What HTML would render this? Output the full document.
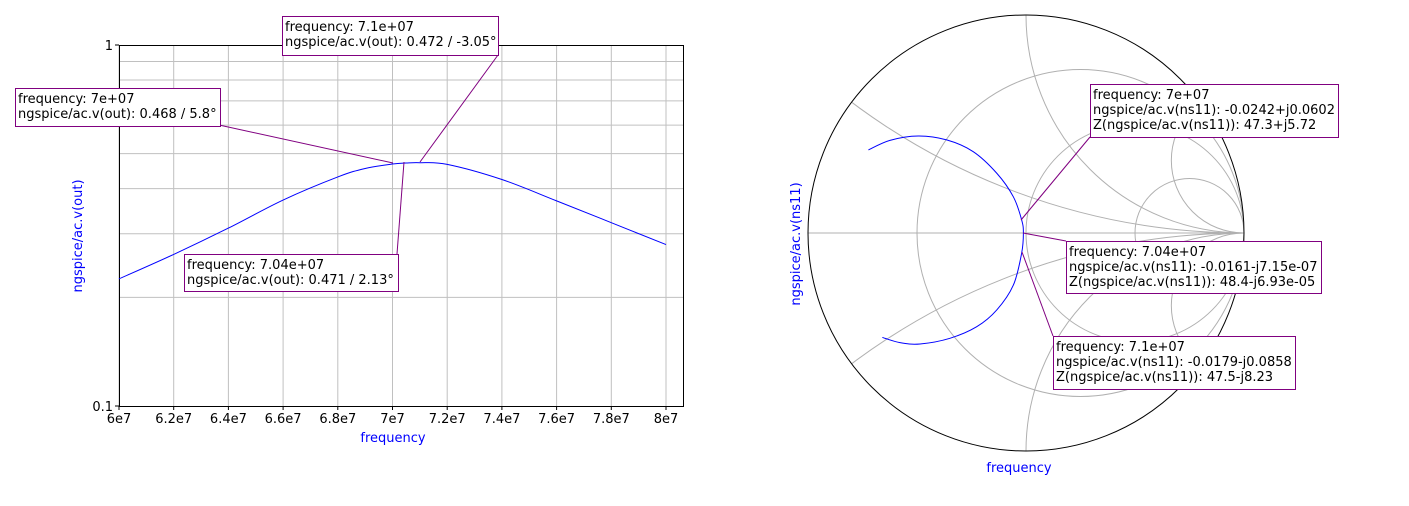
<!DOCTYPE html>
<html><head><meta charset="utf-8"><style>
html,body{margin:0;padding:0;background:#fff;width:1409px;height:506px;overflow:hidden;}
svg{display:block;font-family:"DejaVu Sans","Liberation Sans",sans-serif;}
</style></head><body>
<svg id="root" width="1409" height="506" viewBox="0 0 1409 506">
<g id="left"></g>
<g id="right"></g>
</svg>
<script>
// Left plot data
const freqs = [6.0e7, 6.2e7, 6.4e7, 6.6e7, 6.8e7, 6.9e7, 7.0e7, 7.05e7, 7.1e7, 7.2e7, 7.4e7, 7.6e7, 7.8e7, 8.0e7];
const mags  = [0.225, 0.263, 0.311, 0.372, 0.431, 0.455, 0.468, 0.471, 0.472, 0.467, 0.424, 0.370, 0.322, 0.280];
const xTicks = [6e7, 6.2e7, 6.4e7, 6.6e7, 6.8e7, 7e7, 7.2e7, 7.4e7, 7.6e7, 7.8e7, 8e7];
const xTickLabels = ["6e7","6.2e7","6.4e7","6.6e7","6.8e7","7e7","7.2e7","7.4e7","7.6e7","7.8e7","8e7"];
const yGrid = [0.2,0.3,0.4,0.5,0.6,0.7,0.8,0.9];
const yTicks = [0.1, 1];
const yTickLabels = ["0.1","1"];
// Smith data: reflection coefficient (re, im)
const gRe = [-0.723,-0.624,-0.494,-0.364,-0.242,-0.134,-0.058,-0.020,-0.012,-0.020,-0.058,-0.134,-0.226,-0.349,-0.486,-0.578,-0.659];
const gIm = [0.381,0.425,0.445,0.427,0.373,0.274,0.166,0.060,0.000,-0.093,-0.239,-0.353,-0.430,-0.483,-0.509,-0.503,-0.479];
const smithR = [1/3, 1, 3];
const smithX = [1/3, 1, 3];

const NS="http://www.w3.org/2000/svg";
function mk(parent,tag,attrs){const e=document.createElementNS(NS,tag);for(const k in attrs)e.setAttribute(k,attrs[k]);parent.appendChild(e);return e;}
function smooth(pts){let d='M'+pts[0][0]+','+pts[0][1];
  for(let i=0;i<pts.length-1;i++){const p0=pts[Math.max(0,i-1)],p1=pts[i],p2=pts[i+1],p3=pts[Math.min(pts.length-1,i+2)];
    const c1=[p1[0]+(p2[0]-p0[0])/6,p1[1]+(p2[1]-p0[1])/6],c2=[p2[0]-(p3[0]-p1[0])/6,p2[1]-(p3[1]-p1[1])/6];
    d+=' C'+c1[0]+','+c1[1]+' '+c2[0]+','+c2[1]+' '+p2[0]+','+p2[1];}
  return d;}
const L=document.getElementById('left'), R=document.getElementById('right');
const x0=119,x1=683,yTop=45,yBot=406;
const fx=f=>119+(f-6e7)/1e7*273.5;
const fy=v=>yTop+(-Math.log10(v))*(yBot-yTop);
yGrid.forEach(v=>{const l=mk(L,'line',{x1:x0,x2:x1,y1:fy(v),y2:fy(v),stroke:'#c0c0c0','stroke-width':1});

});
xTicks.forEach((t,i)=>{const l=mk(L,'line',{x1:fx(t),x2:fx(t),y1:yTop,y2:yBot,stroke:'#c0c0c0','stroke-width':1});


mk(L,'line',{x1:fx(t),x2:fx(t),y1:yBot,y2:yBot+4,stroke:'#000'});
const tx=mk(L,'text',{x:fx(t),y:yBot+17,'text-anchor':'middle','font-size':13,fill:'#000'});tx.textContent=xTickLabels[i];

});
yTicks.forEach((t,i)=>{mk(L,'line',{x1:x0-4,x2:x0,y1:fy(t),y2:fy(t),stroke:'#000'});
const tx=mk(L,'text',{x:x0-6,y:fy(t)+5,'text-anchor':'end','font-size':13,fill:'#000'});tx.textContent=yTickLabels[i];

});
const fr=mk(L,'rect',{x:x0+0.5,y:yTop+0.5,width:x1-x0,height:yBot-yTop,fill:'none',stroke:'#000','stroke-width':1});


const pl=mk(L,'path',{d:smooth(freqs.map((f,i)=>[fx(f),fy(mags[i])])),fill:'none',stroke:'#0000ff','stroke-width':1});


let t=mk(L,'text',{x:393,y:442,'text-anchor':'middle','font-size':13,fill:'#0000ff'});t.textContent='frequency';


t=mk(L,'text',{x:0,y:0,'text-anchor':'middle','font-size':13,fill:'#0000ff',transform:'translate(82,236) rotate(-90)'});t.textContent='ngspice/ac.v(out)';



function annot(parent,bx,by,bw,bh,lines,lx1,ly1,lx2,ly2,name){
  const ln=mk(parent,'line',{x1:lx1,y1:ly1,x2:lx2,y2:ly2,stroke:'#800080','stroke-width':1});
  
  
  const g=mk(parent,'g',{});
  
  
  mk(g,'rect',{x:bx+0.5,y:by+0.5,width:bw,height:bh,fill:'#fff',stroke:'#800080','stroke-width':1});
  lines.forEach((s,i)=>{const tx=mk(g,'text',{x:bx+3,y:by+15+i*15,'font-size':13,fill:'#000'});tx.textContent=s;});
}
annot(L,282,16,216,39,['frequency: 7.1e+07','ngspice/ac.v(out): 0.472 / -3.05°'],498,55,420,162,'marker-annotation-71');
annot(L,15,88,205,38,['frequency: 7e+07','ngspice/ac.v(out): 0.468 / 5.8°'],219,125,393,163,'marker-annotation-70');
annot(L,184,254,214,37,['frequency: 7.04e+07','ngspice/ac.v(out): 0.471 / 2.13°'],397,254,404,162,'marker-annotation-704');

// Smith chart
const cx=1026,cy=233,rad=218;
const gx=g=>cx+g*rad, gy=g=>cy-g*rad;
const defs=mk(R,'defs',{});
const cp=mk(defs,'clipPath',{id:'sc'});mk(cp,'circle',{cx:cx,cy:cy,r:rad});
const gg=mk(R,'g',{'clip-path':'url(#sc)'});
let hl=mk(gg,'line',{x1:cx-rad,x2:cx+rad,y1:cy,y2:cy,stroke:'#b0b0b0'});


smithR.forEach(r=>{const c=mk(gg,'circle',{cx:gx(r/(1+r)),cy:cy,r:rad/(1+r),fill:'none',stroke:'#b0b0b0'});

});
smithX.forEach(x=>{[1,-1].forEach(s=>{const c=mk(gg,'circle',{cx:gx(1),cy:gy(s/x),r:rad/x,fill:'none',stroke:'#b0b0b0'});

});});
const oc=mk(R,'circle',{cx:cx,cy:cy,r:rad,fill:'none',stroke:'#000'});


const sp=mk(R,'path',{d:smooth(gRe.map((g,i)=>[gx(g),gy(gIm[i])])),fill:'none',stroke:'#0000ff','stroke-width':1});


t=mk(R,'text',{x:1019,y:472,'text-anchor':'middle','font-size':13,fill:'#0000ff'});t.textContent='frequency';


t=mk(R,'text',{x:0,y:0,'text-anchor':'middle','font-size':13,fill:'#0000ff',transform:'translate(800,244) rotate(-90)'});t.textContent='ngspice/ac.v(ns11)';


annot(R,1090,84,248,53,['frequency: 7e+07','ngspice/ac.v(ns11): -0.0242+j0.0602','Z(ngspice/ac.v(ns11)): 47.3+j5.72'],1090,137,1021,220,'smith-annotation-70');
annot(R,1066,241,255,52,['frequency: 7.04e+07','ngspice/ac.v(ns11): -0.0161-j7.15e-07','Z(ngspice/ac.v(ns11)): 48.4-j6.93e-05'],1066,241,1023,233,'smith-annotation-704');
annot(R,1053,336,242,53,['frequency: 7.1e+07','ngspice/ac.v(ns11): -0.0179-j0.0858','Z(ngspice/ac.v(ns11)): 47.5-j8.23'],1053,336,1022,252,'smith-annotation-71');
</script>
</body></html>
